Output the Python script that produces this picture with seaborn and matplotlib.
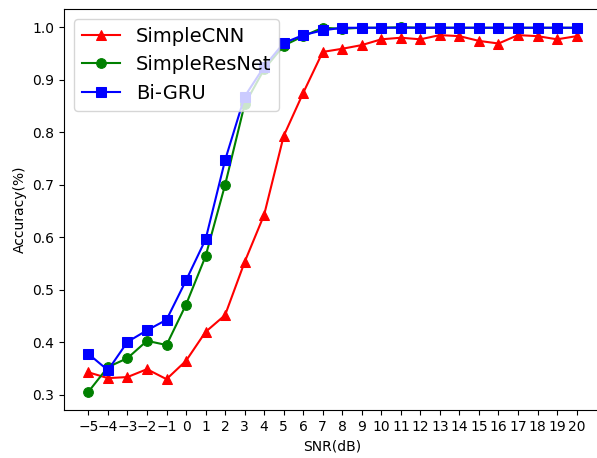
import numpy as np
import pandas as pd
import matplotlib
matplotlib.use('Agg')
import matplotlib.pyplot as plt
import seaborn as sns

snr = list(range(-5, 21))

simple_cnn = [0.343, 0.332, 0.334, 0.349, 0.330, 0.365, 0.420, 0.452, 0.553, 0.643,
              0.793, 0.875, 0.953, 0.959, 0.966, 0.977, 0.980, 0.977, 0.985, 0.983,
              0.974, 0.969, 0.985, 0.983, 0.977, 0.983]
simple_resnet = [0.306, 0.353, 0.370, 0.403, 0.395, 0.472, 0.564, 0.700, 0.853, 0.920,
                 0.965, 0.983, 0.999, 0.997, 0.999, 0.999, 1.000, 0.999, 0.999, 0.999,
                 0.999, 0.999, 0.999, 0.999, 0.999, 0.999]
bi_gru = [0.378, 0.347, 0.401, 0.423, 0.443, 0.518, 0.596, 0.747, 0.868, 0.925,
          0.970, 0.985, 0.994, 0.999, 0.999, 0.999, 0.999, 0.999, 0.999, 0.999,
          0.999, 0.999, 0.999, 0.999, 0.999, 0.999]

series = [('SimpleCNN', simple_cnn, 'red', '^'),
          ('SimpleResNet', simple_resnet, 'green', 'o'),
          ('Bi-GRU', bi_gru, 'blue', 's')]

fig = plt.figure(figsize=(5.97, 4.58), dpi=100)
ax = fig.add_axes([64 / 597, 48 / 458, 537 / 597, 401 / 458])

for name, vals, col, mk in series:
    df = pd.DataFrame({'snr': snr, 'acc': vals})
    sns.lineplot(data=df, x='snr', y='acc', ax=ax, color=col, marker=mk,
                 markersize=7, markeredgecolor=col, linewidth=1.5, label=name)

ax.set_xticks(snr)
ax.set_xlabel('SNR(dB)')
ax.set_ylabel('Accuracy(%)')
ax.legend(loc='upper left', fontsize=14)

fig.savefig('out.png', dpi=100)
